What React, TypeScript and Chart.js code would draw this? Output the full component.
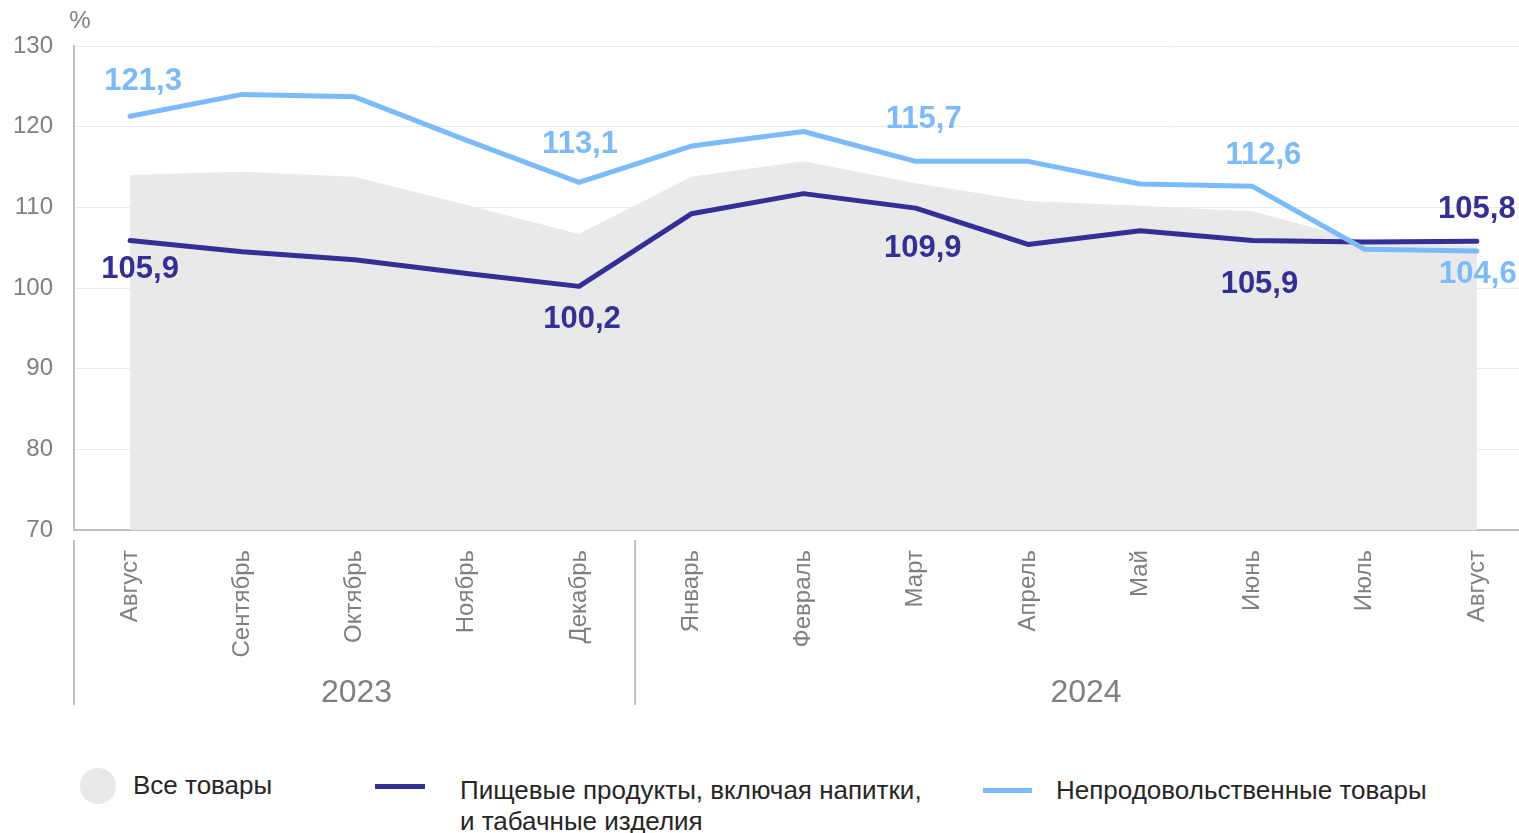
import React, { useEffect, useRef } from "react";
import { Chart, registerables } from "chart.js";

Chart.register(...registerables);

const months = ["Август", "Сентябрь", "Октябрь", "Ноябрь", "Декабрь", "Январь", "Февраль", "Март", "Апрель", "Май", "Июнь", "Июль", "Август"];
const years = ["2023", "2024"];
const yearStartIdx = [0, 5];
const allGoods = [114.0, 114.4, 113.8, 110.3, 106.7, 113.8, 115.7, 113.0, 110.8, 110.2, 109.5, 105.8, 105.3];
const food = [105.9, 104.5, 103.5, 101.8, 100.2, 109.2, 111.7, 109.9, 105.4, 107.1, 105.9, 105.7, 105.8];
const nonFood = [121.3, 124.0, 123.7, 118.3, 113.1, 117.6, 119.4, 115.7, 115.7, 112.9, 112.6, 104.8, 104.6];
const yTicks = [70, 80, 90, 100, 110, 120, 130];
const labeledIdx = [0, 4, 7, 10, 12];
const seriesNames = ["Все товары", "Пищевые продукты, включая напитки,", "и табачные изделия", "Непродовольственные товары"];

const DARK = "#342f97";
const LIGHT = "#7cbbfb";
const AREA = "#e9e9e9";
const AXIS = "#c0c0c0";
const TICK = "#7f7f7f";
const FONT = "Arial, 'Liberation Sans', sans-serif";

// label offsets (style only)
const foodOffsets = [
  { dx: 10, dy: 29 },
  { dx: 3, dy: 33 },
  { dx: 7, dy: 40 },
  { dx: 7, dy: 44 },
  { dx: 0, dy: -32 },
];
const nonFoodOffsets = [
  { dx: 13, dy: -35 },
  { dx: 1, dy: -38 },
  { dx: 8, dy: -42 },
  { dx: 11, dy: -31 },
  { dx: 1, dy: 24 },
];

const fmt = (v: number) => v.toFixed(1).replace(".", ",");

const decorPlugin = {
  id: "decor",
  afterDraw(chart: any) {
    const ctx = chart.ctx;
    const x = chart.scales.x;
    const area = chart.chartArea;
    ctx.save();
    // percent sign
    ctx.fillStyle = TICK;
    ctx.font = `24px ${FONT}`;
    ctx.textAlign = "center";
    ctx.textBaseline = "middle";
    ctx.fillText("%", 80, 21);

    // separators
    const seps: number[] = [];
    yearStartIdx.forEach((idx) => {
      const px = idx === 0 ? area.left : (x.getPixelForValue(idx - 1) + x.getPixelForValue(idx)) / 2;
      seps.push(px);
    });
    ctx.strokeStyle = AXIS;
    ctx.lineWidth = 2;
    seps.forEach((px) => {
      ctx.beginPath();
      ctx.moveTo(px, area.bottom + 10);
      ctx.lineTo(px, area.bottom + 175);
      ctx.stroke();
    });
    // year labels
    ctx.fillStyle = TICK;
    ctx.font = `32px ${FONT}`;
    years.forEach((yr, i) => {
      const l = seps[i];
      const r = i + 1 < seps.length ? seps[i + 1] : area.right;
      ctx.fillText(yr, (l + r) / 2 + 2, area.bottom + 163);
    });

    // data labels
    ctx.font = `bold 31px ${FONT}`;
    const drawLabels = (dsIndex: number, values: number[], offsets: { dx: number; dy: number }[], color: string) => {
      const meta = chart.getDatasetMeta(dsIndex);
      ctx.fillStyle = color;
      labeledIdx.forEach((idx, k) => {
        const pt = meta.data[idx];
        ctx.fillText(fmt(values[idx]), pt.x + offsets[k].dx, pt.y + offsets[k].dy);
      });
    };
    drawLabels(0, nonFood, nonFoodOffsets, LIGHT);
    drawLabels(1, food, foodOffsets, DARK);
    ctx.restore();
  },
};

function ChartView() {
  const ref = useRef<HTMLCanvasElement | null>(null);
  useEffect(() => {
    if (!ref.current) return;
    const chart = new Chart(ref.current, {
      type: "line",
      data: {
        labels: months,
        datasets: [
          {
            label: seriesNames[3],
            data: nonFood,
            borderColor: LIGHT,
            borderWidth: 5,
            pointRadius: 0,
            tension: 0,
            fill: false,
            borderCapStyle: "round",
            borderJoinStyle: "round",
          },
          {
            label: seriesNames[1] + " " + seriesNames[2],
            data: food,
            borderColor: DARK,
            borderWidth: 5,
            pointRadius: 0,
            tension: 0,
            fill: false,
            borderCapStyle: "round",
            borderJoinStyle: "round",
          },
          {
            label: seriesNames[0],
            data: allGoods,
            borderWidth: 0,
            borderColor: "rgba(0,0,0,0)",
            backgroundColor: AREA,
            pointRadius: 0,
            tension: 0,
            fill: "start",
          },
        ],
      },
      options: {
        animation: false,
        responsive: true,
        maintainAspectRatio: false,
        layout: { padding: { top: 46, left: 0, right: 0, bottom: 0 } },
        plugins: { legend: { display: false }, tooltip: { enabled: false } },
        scales: {
          x: {
            offset: true,
            grid: { display: false, drawTicks: false },
            border: { display: true, color: AXIS, width: 2 },
            ticks: {
              color: TICK,
              font: { family: FONT, size: 24 },
              minRotation: 90,
              maxRotation: 90,
              padding: 20,
              autoSkip: false,
            },
            afterFit: (s: any) => {
              s.height = 190;
            },
          },
          y: {
            min: 70,
            max: 130,
            afterBuildTicks: (s: any) => {
              s.ticks = yTicks.map((v) => ({ value: v }));
            },
            grid: { color: "#ebebeb", lineWidth: 1, drawTicks: false },
            border: { display: true, color: AXIS, width: 2 },
            ticks: {
              color: TICK,
              font: { family: FONT, size: 24 },
              padding: 21,
            },
            afterFit: (s: any) => {
              s.width = 74;
            },
          },
        },
      },
      plugins: [decorPlugin],
    } as any);
    return () => chart.destroy();
  }, []);
  return <canvas ref={ref} />;
}

export default function App() {
  const textStyle: React.CSSProperties = {
    position: "absolute",
    fontFamily: FONT,
    fontSize: 26,
    lineHeight: "31px",
    color: "#262626",
    whiteSpace: "nowrap",
  };
  return (
    <div style={{ position: "fixed", left: 0, top: 0, width: 1519, height: 833, overflow: "hidden", background: "#fff" }}>
      <div style={{ position: "absolute", left: 0, top: 0, width: 1533, height: 720 }}>
        <ChartView />
      </div>
      <div style={{ position: "absolute", left: 80, top: 768, width: 36, height: 36, borderRadius: "50%", background: "#e8e8e8" }} />
      <div style={{ ...textStyle, left: 133, top: 770 }}>{seriesNames[0]}</div>
      <div style={{ position: "absolute", left: 375, top: 784, width: 50, height: 5, background: DARK }} />
      <div style={{ ...textStyle, left: 460, top: 775 }}>
        {seriesNames[1]}
        <br />
        {seriesNames[2]}
      </div>
      <div style={{ position: "absolute", left: 983, top: 788, width: 49, height: 5, background: LIGHT }} />
      <div style={{ ...textStyle, left: 1056, top: 775 }}>{seriesNames[3]}</div>
    </div>
  );
}
